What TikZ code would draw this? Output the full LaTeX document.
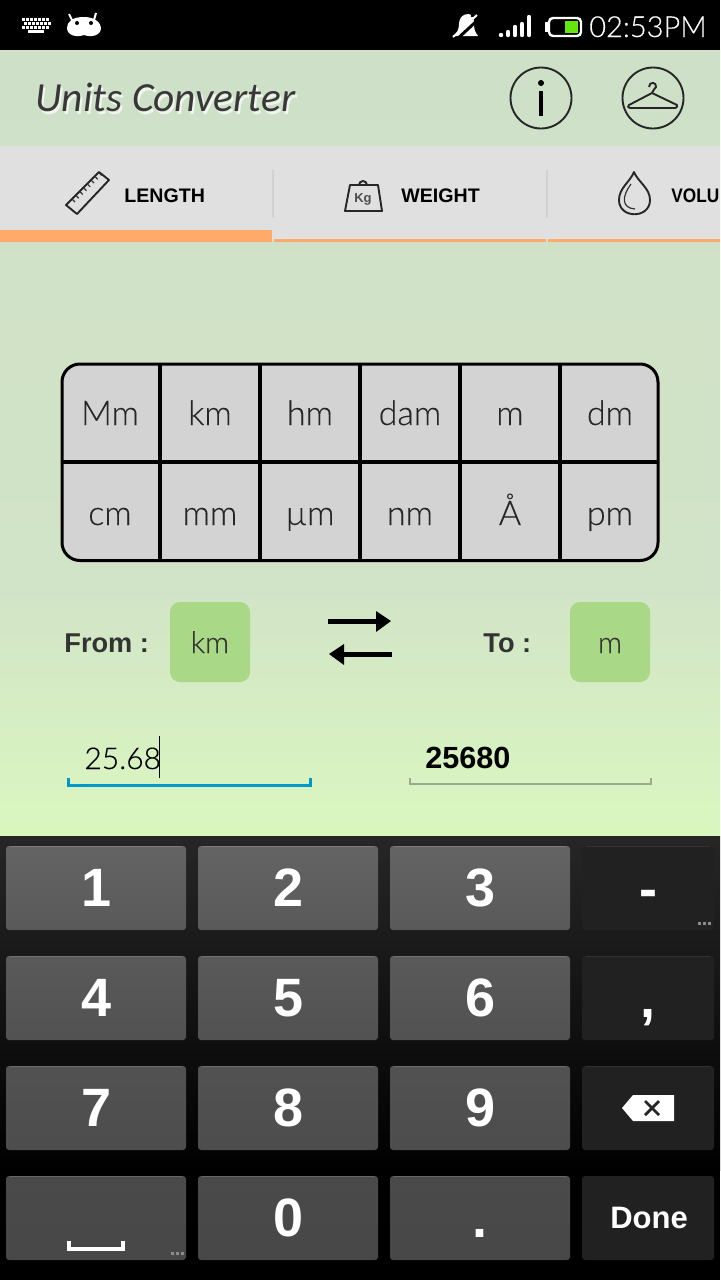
\documentclass[tikz,border=0pt]{standalone}
\usepackage{fontspec}
\usepackage{graphicx}
\setmainfont{Liberation Sans}
\newfontfamily\lightfont[FakeBold=0.25]{Lato Light}
\newfontfamily\titlefont{Carlito}
\usetikzlibrary{positioning, calc}

\definecolor{inkgray}{HTML}{333333}
\definecolor{bandgreen}{HTML}{CFE0C8}
\definecolor{midgreen}{HTML}{D2E4C7}
\definecolor{lowgreen}{HTML}{DAF7BF}
\definecolor{tabgray}{HTML}{E0E0E0}
\definecolor{tabline}{HTML}{FFA96A}
\definecolor{cellgray}{HTML}{D3D3D3}
\definecolor{pickgreen}{HTML}{A9D986}
\definecolor{focusblue}{HTML}{0099CC}
\definecolor{fieldgray}{HTML}{9BAA8C}
\definecolor{chargegreen}{HTML}{66E60F}

\tikzset{
  lab/.style={inner sep=0pt, anchor=base},
  tabtext/.style={lab, anchor=base west, font=\fontsize{9.8}{12}\bfseries\selectfont, text=black},
  celltext/.style={lab, font=\fontsize{17}{20}\lightfont\selectfont, text=black!85},
  picktext/.style={lab, font=\fontsize{15}{18}\lightfont\selectfont, text=inkgray},
  boldtext/.style={lab, anchor=base west, font=\fontsize{13.6}{17}\bfseries\selectfont, text=inkgray},
  titletext/.style={lab, anchor=base west, font=\fontsize{20.7}{25}\titlefont\itshape\selectfont},
  keynode/.style={rounded corners=1.5pt, inner sep=0pt, minimum height=42pt, text=white,
    font=\fontsize{27}{32}\bfseries\selectfont},
  keylight/.style={keynode, minimum width=90pt},
  keydark/.style={keynode, minimum width=66pt, fill=black!87},
  keyedge/.style={white, opacity=0.16, line width=0.5pt},
  rowa/.style={top color=black!61, bottom color=black!65},
  rowb/.style={top color=black!65, bottom color=black!68},
  rowc/.style={top color=black!68, bottom color=black!70},
  rowd/.style={top color=black!71, bottom color=black!72},
  iconline/.style={draw=black!85, line width=0.95pt, line join=round},
  thinline/.style={draw=black!80, line width=0.6pt},
  dotmark/.style={fill=black!45},
}

\begin{document}
\begin{tikzpicture}[x=0.5pt,y=-0.5pt]
  \useasboundingbox (0,0) rectangle (720,1280);

  % backgrounds
  \fill[black] (0,0) rectangle (720,50);
  \shade[top color=bandgreen, bottom color=midgreen] (0,50) rectangle (720,590);
  \shade[top color=midgreen, bottom color=lowgreen] (0,590) rectangle (720,836);
  \fill[tabgray] (0,146) rectangle (720,241);

  % status bar
  \foreach \r/\a in {19.5/22, 23.5/24, 27.5/22} {
    \draw[white, line width=1.5pt, dash pattern=on 1.5pt off 0.5pt] (\a,\r) -- (\a+28,\r);
  }
  \fill[white] (28,30) rectangle (44,33);
  \fill[white] (84,17) .. controls (96,17) and (101,24) .. (101,28) .. controls (101,35) and (92,38) .. (84,35)
    .. controls (76,38) and (67,35) .. (67,28) .. controls (67,22) and (72,17) .. (84,17) -- cycle;
  \draw[white, line width=1pt] (72,20) -- (69,14) (94,20) -- (96,13);
  \fill[black] (77,23) circle (2) (91,23) circle (2);
  \fill[white] (468,14) .. controls (462,14) and (459,19) .. (459,24) .. controls (459,29) and (457,32) .. (455,36)
    -- (478,36) .. controls (475,32) and (474,29) .. (474,24) .. controls (474,19) and (473,14) .. (468,14) -- cycle;
  \draw[black, line width=1.5pt] (455,41) -- (481,17);
  \fill[black] (471,12) rectangle (482,17);
  \draw[white, line width=1pt] (453,37) -- (477,15);
  \foreach \x/\t in {501/33, 508/30, 515/25, 522/22, 529/15} {
    \draw[white, line width=2.2pt, line cap=round] (\x,\t+2) -- (\x,35);
  }
  \draw[white, line width=1.2pt, rounded corners=2pt] (549,18) rectangle (581,36);
  \fill[white] (545,22) rectangle (549,32);
  \fill[chargegreen] (565,21) rectangle (578,33);
  \node[lab, anchor=base east, text=white, font=\fontsize{14.5}{18}\lightfont\selectfont] (clock) at (707,37) {02:53PM};

  % title row
  \node[titletext, text=white, opacity=0.7] (titleglow) at (37,114) {Units Converter};
  \node[titletext, text=black!78] (title) at (35,111) {Units Converter};
  \draw[iconline] (541,98) circle (30.5);
  \fill[black] (541,83) circle (3);
  \draw[black, line width=2pt] (541,91) -- (541,116);
  \draw[iconline] (653,98) circle (30.5);
  \draw[iconline] (649,87) .. controls (649,81) and (657,82) .. (656,87) .. controls (655,90) and (652,90) .. (652,93)
    -- (677,105) .. controls (678,107) and (676,108) .. (675,108) -- (630,108) .. controls (628,108) and (627,106) .. (629,105) -- (652,93);

  % tabs
  \fill[tabline] (0,230) rectangle (272,242);
  \fill[tabline] (274,239) rectangle (546,242);
  \fill[tabline] (548,239) rectangle (720,242);
  \draw[black!18, line width=1pt] (273,170) -- (273,218) (547,170) -- (547,218);
  \draw[iconline] (66,205) -- (99,172) -- (109,180) -- (77,214) -- cycle;
  \foreach \k in {0,...,7} {
    \draw[thinline] (72+3.8*\k,199-3.8*\k) -- (75+3.8*\k,202-3.8*\k);
  }
  \node[tabtext] (tablength) at (124,202) {LENGTH};
  \draw[iconline] (350,185) -- (378,185) -- (382,211) -- (345,211) -- cycle;
  \draw[iconline] (359,185) arc (180:360:4);
  \node[lab, text=black!70, font=\fontsize{6.5}{7}\bfseries\selectfont] (kgmark) at (363,202) {Kg};
  \node[tabtext] (tabweight) at (401,202) {WEIGHT};
  \draw[iconline] (634,172) .. controls (630,182) and (619,188) .. (619,200) .. controls (619,219) and (650,219) .. (650,200) .. controls (650,188) and (638,182) .. (634,172) -- cycle;
  \draw[thinline] (631,184) .. controls (622,196) and (621,208) .. (635,209);
  \node[tabtext] (tabvolume) at (671,202) {\scalebox{0.88}[1]{VOLU}};

  % unit table
  \fill[cellgray, rounded corners=9pt] (62,364) rectangle (658,560.5);
  \foreach \x in {160,260,360,460,560} {
    \draw[black, line width=2pt] (\x,364) -- (\x,560.5);
  }
  \draw[black, line width=1.8pt] (62,462) -- (658,462);
  \draw[black, line width=1.5pt, rounded corners=9pt] (62,364) rectangle (658,560.5);
  \foreach \name/\x/\y in {Mm/110/425, km/210/425, hm/310/425, dam/410/425, m/510/425, dm/610/425,
    cm/110/525, mm/210/525, µm/310/525, nm/410/525, Å/510/525, pm/610/525} {
    \node[celltext] (cell\x\y) at (\x,\y) {\name};
  }

  % from and to
  \node[boldtext] (fromlabel) at (64,652) {From :};
  \node[fill=pickgreen, rounded corners=5pt, minimum size=40pt, inner sep=0pt] (frombox) at (210,642) {};
  \node[picktext] (fromunit) at (210,653) {km};
  \draw[black, line width=2.5pt] (328,621) -- (378,621);
  \fill[black] (391,621) -- (376,611) -- (376,632) -- cycle;
  \draw[black, line width=2.5pt] (392,654) -- (342,654);
  \fill[black] (329,654) -- (344,644) -- (344,665) -- cycle;
  \node[boldtext] (tolabel) at (483,652) {To :};
  \node[fill=pickgreen, rounded corners=5pt, minimum size=40pt, inner sep=0pt] (tobox) at (610,642) {};
  \node[picktext] (tounit) at (610,653) {m};

  % value fields
  \node[lab, anchor=base west, text=black, font=\fontsize{15}{18}\lightfont\selectfont] (inputvalue) at (84,769) {25.68};
  \draw[black, line width=0.5pt] (159,736) -- (159,778);
  \draw[focusblue, line width=1.5pt] (68.5,778) -- (68.5,785) -- (310.5,785) -- (310.5,778);
  \node[lab, anchor=base west, text=black, font=\fontsize{15.3}{18}\bfseries\selectfont] (outputvalue) at (425,768) {25680};
  \draw[fieldgray, line width=1pt] (410,778) -- (410,784) -- (651,784) -- (651,778);

  % keyboard
  \shade[top color=black!85, bottom color=black] (0,836) rectangle (720,1170);
  \fill[black] (0,1170) rectangle (720,1280);
  \foreach \lab/\cx/\cy/\rowname in {1/96/888/rowa, 2/288/888/rowa, 3/480/888/rowa,
    4/96/998/rowb, 5/288/998/rowb, 6/480/998/rowb,
    7/96/1108/rowc, 8/288/1108/rowc, 9/480/1108/rowc,
    {}/96/1218/rowd, 0/288/1218/rowd, {}/480/1218/rowd} {
    \node[keylight, \rowname] (key\cx\cy) at (\cx,\cy) {\kern1pt\lab};
    \draw[keyedge] ([xshift=2pt,yshift=-0.3pt]key\cx\cy.north west) -- ([xshift=-2pt,yshift=-0.3pt]key\cx\cy.north east);
  }
  \node[keydark] (keyminus) at (648,888) {};
  \node[keydark] (keycomma) at (648,998) {};
  \node[keydark] (keyback) at (648,1108) {};
  \node[keydark, font=\fontsize{15.5}{20}\bfseries\selectfont] (keydone) at (648,1218) {\kern1pt Done};
  \foreach \k in {keyminus, keycomma, keyback} {
    \draw[keyedge, opacity=0.08] ([xshift=2pt,yshift=-0.3pt]\k.north west) -- ([xshift=-2pt,yshift=-0.3pt]\k.north east);
  }
  \node[lab, text=white, font=\fontsize{27}{32}\bfseries\selectfont] (minus) at (648,907) {-};
  \node[lab, text=white, font=\fontsize{27}{32}\bfseries\selectfont] (comma) at (648,1017) {,};
  \node[lab, text=white, font=\fontsize{27}{32}\bfseries\selectfont] (point) at (480,1237) {.};
  \fill[white] (622,1108) -- (633,1095) -- (674,1095) -- (674,1121) -- (633,1121) -- cycle;
  \draw[black!85, line width=1.4pt] (645,1101) -- (659,1115) (659,1101) -- (645,1115);
  \draw[white, line width=2pt] (69,1241) -- (69,1249) -- (123,1249) -- (123,1241);
  \foreach \x in {699,704,709} {
    \fill[dotmark] (\x-1.5,922) rectangle (\x+1.5,925);
  }
  \foreach \x in {172,177,182} {
    \fill[dotmark] (\x-1.5,1252) rectangle (\x+1.5,1255);
  }
\end{tikzpicture}
\end{document}
